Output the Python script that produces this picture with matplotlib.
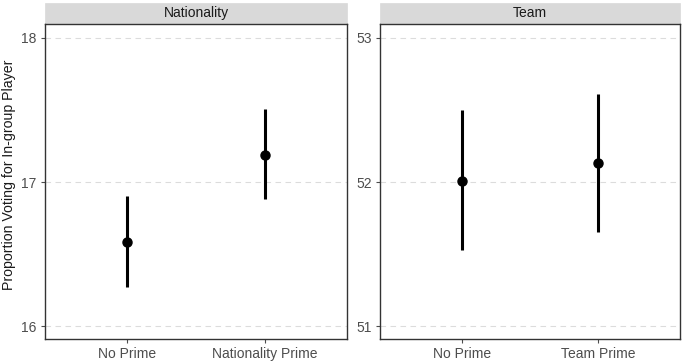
import matplotlib
matplotlib.use('Agg')
import matplotlib.pyplot as plt
from matplotlib.patches import Rectangle

plt.rcParams['font.family'] = ['Liberation Sans', 'DejaVu Sans']

# facet 1: nationality
nat_labels = ['No Prime', 'Nationality Prime']
nat_mean = [16.58, 17.19]
nat_low = [16.27, 16.88]
nat_high = [16.90, 17.51]

# facet 2: team
team_labels = ['No Prime', 'Team Prime']
team_mean = [52.01, 52.13]
team_low = [51.53, 51.65]
team_high = [52.50, 52.61]

fig = plt.figure(figsize=(6.85, 3.61), dpi=100)
ax1 = fig.add_axes([45 / 685, 1 - 339 / 361, 302 / 685, 315 / 361])
ax2 = fig.add_axes([380 / 685, 1 - 339 / 361, 300 / 685, 315 / 361])

panels = [
    (ax1, 'Nationality', nat_labels, nat_mean, nat_low, nat_high, 16),
    (ax2, 'Team', team_labels, team_mean, team_low, team_high, 51),
]

for ax, title, labels, mean, low, high, base in panels:
    x = list(range(1, len(labels) + 1))
    ax.vlines(x, low, high, color='black', linewidth=2.2, zorder=3)
    ax.plot(x, mean, 'o', color='black', markersize=6.5, zorder=4)
    ax.set_xlim(0.4, 2.6)
    ax.set_ylim(base - 0.09, base + 2.097)
    ax.set_xticks(x)
    ax.set_xticklabels(labels)
    ax.set_yticks([base, base + 1, base + 2])
    ax.grid(axis='y', color='#dcdcdc', linestyle=(0, (5, 4)), linewidth=0.8)
    ax.set_axisbelow(True)
    for s in ax.spines.values():
        s.set_color('#333333')
        s.set_linewidth(1.0)
    ax.tick_params(colors='#4d4d4d', labelcolor='#4d4d4d', labelsize=10,
                   length=3, width=0.8, pad=3)
    # facet strip
    strip = Rectangle((0, 1), 1, 21 / 315, transform=ax.transAxes,
                      facecolor='#d9d9d9', edgecolor='#d9d9d9', linewidth=0.5,
                      clip_on=False)
    ax.add_patch(strip)
    ax.text(0.5, 1 + 10.5 / 315, title, transform=ax.transAxes,
            ha='center', va='center', fontsize=10, color='#1a1a1a')

ax1.set_ylabel('Proportion Voting for In-group Player', fontsize=10.2,
               color='#1a1a1a', va='center')
ax1.yaxis.set_label_coords(-36 / 302, (339 - 175) / 315)

fig.savefig('out.png', dpi=100)
